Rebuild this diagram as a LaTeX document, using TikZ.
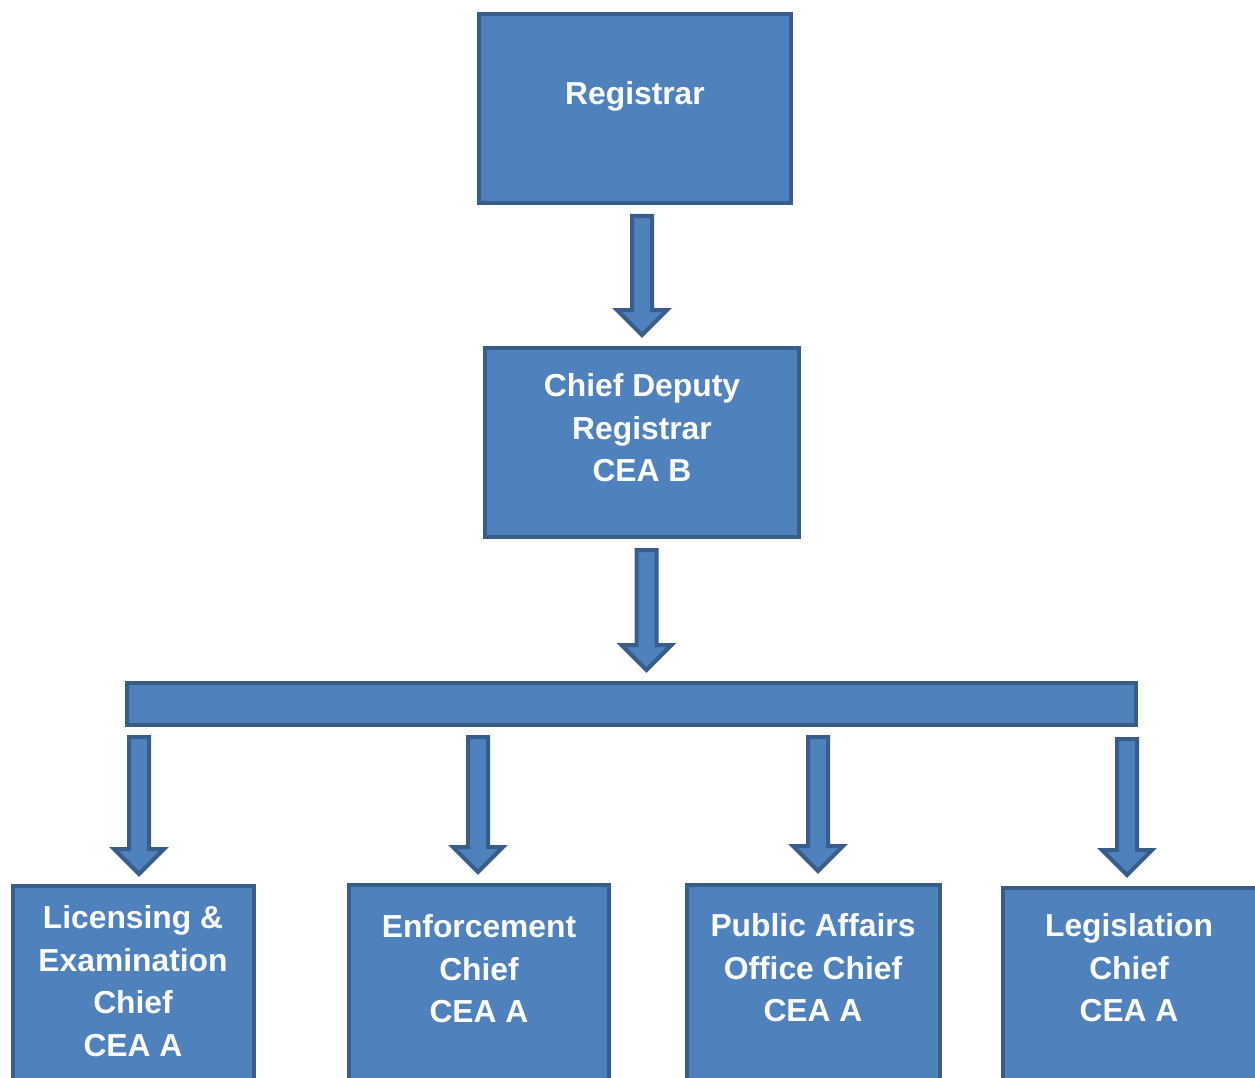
\documentclass[tikz,border=0pt]{standalone}
\usepackage{fontspec}
\setmainfont{Liberation Sans}
\usetikzlibrary{calc}
\definecolor{boxfill}{HTML}{4F81BD}
\definecolor{boxline}{HTML}{385D8A}
\tikzset{
  box/.style={draw=boxline, fill=boxfill, line width=4pt, rectangle, inner sep=0pt, outer sep=0pt},
  lbl/.style={text=white, align=center, font=\fontsize{31.8}{42.5}\selectfont\bfseries, inner sep=0pt},
  arrowbox/.style={draw=boxline, fill=boxfill, line width=4pt, line join=miter}
}
\newcommand\blockarrow[2]{%
  \draw[arrowbox] let \p1=(#1), \p2=(#2) in
    (\x1-10pt,\y1) -- (\x1+10pt,\y1) -- (\x1+10pt,\y2+25pt) -- (\x1+25pt,\y2+25pt)
    -- (\x2,\y2) -- (\x1-25pt,\y2+25pt) -- (\x1-10pt,\y2+25pt) -- cycle;}
\begin{document}
\begin{tikzpicture}[x=1pt,y=-1pt]
\useasboundingbox (0,0) rectangle (1255,1078);
\clip (0,0) rectangle (1255,1078);
% boxes
\node[box, minimum width=312pt, minimum height=189pt] (reg) at (635,108.5) {};
\node[lbl] (regt) at (635,96) {Registrar};
\node[box, minimum width=314pt, minimum height=189pt] (cdr) at (642,442.5) {};
\node[lbl] (cdrt) at (642,428) {Chief Deputy\\Registrar\\CEA B};
\node[box, minimum width=1009pt, minimum height=42pt] (bar) at (631.5,704) {};
\node[box, anchor=north, minimum width=241pt, minimum height=220pt] (lic) at (133.5,886) {};
\node[lbl] (lict) at (133,981) {Licensing \&\\Examination\\Chief\\CEA A};
\node[box, anchor=north, minimum width=260pt, minimum height=220pt] (enf) at (479,885) {};
\node[lbl] (enft) at (479,969) {Enforcement\\Chief\\CEA A};
\node[box, anchor=north, minimum width=253pt, minimum height=220pt] (pub) at (813.5,885) {};
\node[lbl] (pubt) at (813,968) {Public Affairs\\Office Chief\\CEA A};
\node[box, anchor=north, minimum width=260pt, minimum height=220pt] (leg) at (1133,888) {};
\node[lbl] (legt) at (1129,968) {Legislation\\Chief\\CEA A};
% arrow end points
\coordinate (a1s) at (642,216); \coordinate (a1e) at (642,335);
\coordinate (a2s) at (646.5,550); \coordinate (a2e) at (646.5,670);
\coordinate (b1s) at (139,737); \coordinate (b1e) at (139,874);
\coordinate (b2s) at (478,737); \coordinate (b2e) at (478,872);
\coordinate (b3s) at (818,737); \coordinate (b3e) at (818,871);
\coordinate (b4s) at (1127,739); \coordinate (b4e) at (1127,875);
\blockarrow{a1s}{a1e}
\blockarrow{a2s}{a2e}
\blockarrow{b1s}{b1e}
\blockarrow{b2s}{b2e}
\blockarrow{b3s}{b3e}
\blockarrow{b4s}{b4e}
\end{tikzpicture}
\end{document}
